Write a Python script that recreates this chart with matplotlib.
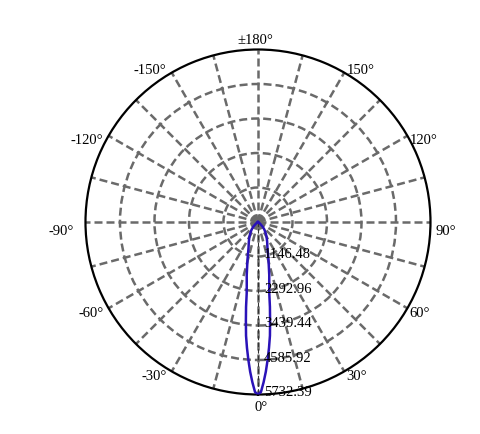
import numpy as np
import matplotlib
matplotlib.use("Agg")
import matplotlib.pyplot as plt

plt.rcParams['font.family'] = ['Liberation Serif', 'DejaVu Serif']

# Intensité lumineuse (cd) selon l'angle, de 0° à 180° (courbe symétrique)
angles = [0, 1, 2, 3, 4, 5, 6, 7, 8, 9, 10, 12, 14, 16, 18, 20, 25, 30, 35,
          40, 45, 50, 55, 60, 70, 80, 90, 120, 150, 180]
intensity = [5732.39, 5650, 5330, 4980, 4590, 4200, 3800, 3300, 2850, 2400,
             2150, 1800, 1480, 1250, 1060, 920, 720, 570, 440, 330, 220, 100,
             50, 30, 15, 8, 0, 0, 0, 0]

ring_values = [1146.48, 2292.96, 3439.44, 4585.92, 5732.39]
ring_labels = ['1146.48', '2292.96', '3439.44', '4585.92', '5732.39']

tick_angles = [0, 30, 60, 90, 120, 150, 180, -150, -120, -90, -60, -30]
tick_labels = ['0°', '30°', '60°', '90°', '120°', '150°', '±180°',
               '-150°', '-120°', '-90°', '-60°', '-30°']

# courbe complète (miroir)
theta = [-a for a in angles[::-1]] + angles[1:]
r = intensity[::-1] + intensity[1:]

fig = plt.figure(figsize=(4.8, 4.35), dpi=100)
ax = fig.add_axes([0.1781, 0.0908, 0.71875, 0.7931], projection='polar')
ax.set_theta_zero_location('S')
ax.set_theta_direction(1)
ax.set_ylim(0, ring_values[-1])

ax.set_thetagrids(range(0, 360, 15), labels=[''] * 24)
ax.set_rgrids(ring_values[:-1], labels=[''] * 4)
ax.grid(True, color='#6a6a6a', linewidth=1.8, linestyle=(0, (3.2, 1.6)))
ax.tick_params(length=0)
ax.spines['polar'].set_linewidth(1.6)
ax.spines['polar'].set_color('black')

# axe radial (ligne fine)
ax.plot([0, 0], [0, ring_values[-1]], color='#333333', lw=0.8,
        ls=(0, (4, 2)), zorder=3)

ax.plot(np.radians(theta), r, color='#2a12b8', lw=1.8, zorder=4)

for v, lab in zip(ring_values, ring_labels):
    ax.annotate(lab, xy=(0, v), xytext=(6, 3), textcoords='offset pixels',
                ha='left', va='center', fontsize=10.5, zorder=5,
                annotation_clip=False)

for a, lab in zip(tick_angles, tick_labels):
    dy = 3 if abs(a) == 150 else -4
    if a == 0:
        ha, dx, dy = 'center', 3, -12
    elif a == 180:
        ha, dx, dy = 'center', -3, 10
    elif a == 90:
        ha, dx, dy = 'left', 5, -8
    elif a == -90:
        ha, dx, dy = 'right', -12, -8
    elif a > 0:
        ha, dx = 'left', 2
    else:
        ha, dx = 'right', -5
    ax.annotate(lab, xy=(np.radians(a), ring_values[-1]), xytext=(dx, dy),
                textcoords='offset pixels', ha=ha, va='center', fontsize=10.5,
                annotation_clip=False)

fig.savefig('out.png', dpi=100)
